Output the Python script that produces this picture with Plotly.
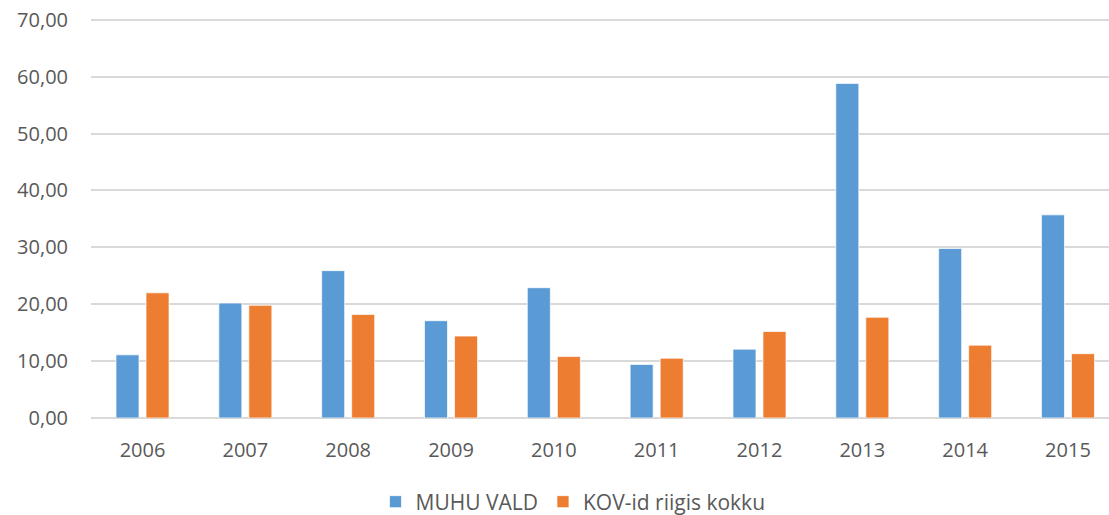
import plotly.graph_objects as go

years = ["2006", "2007", "2008", "2009", "2010", "2011", "2012", "2013", "2014", "2015"]
muhu_vald = [11.1, 20.2, 25.9, 17.1, 22.9, 9.4, 12.1, 58.8, 29.8, 35.7]
kov_kokku = [22.0, 19.8, 18.2, 14.4, 10.8, 10.5, 15.2, 17.7, 12.8, 11.3]
y_ticks = [0, 10, 20, 30, 40, 50, 60, 70]

FONT = "Open Sans"
TXT = "#595959"

fig = go.Figure()
fig.add_trace(go.Bar(
    x=years, y=muhu_vald, name="MUHU VALD",
    marker=dict(color="#5B9BD5", line=dict(color="rgba(255,255,255,0.7)", width=1)),
))
fig.add_trace(go.Bar(
    x=years, y=kov_kokku, name="KOV-id riigis kokku",
    marker=dict(color="#ED7D31", line=dict(color="rgba(255,255,255,0.7)", width=1)),
))

fig.update_layout(
    width=1109, height=515,
    margin=dict(l=91, r=0, t=17.5, b=96.5, autoexpand=False),
    paper_bgcolor="white", plot_bgcolor="white",
    separators=",.",
    barmode="group", bargap=0.416, bargroupgap=0.233,
    font=dict(family=FONT, size=20, color=TXT),
    showlegend=True,
    legend=dict(
        orientation="h", xref="paper", x=0.4735, xanchor="center",
        yref="paper", y=-0.21, yanchor="middle",
        font=dict(family=FONT, size=21, color=TXT),
        itemwidth=30, traceorder="normal",
    ),
    xaxis=dict(
        type="category", range=[-0.501, 9.399], automargin=False,
        showgrid=False, showline=False, ticks="",
        tickfont=dict(family=FONT, size=20, color=TXT),
        ticklabelstandoff=18,
    ),
    yaxis=dict(
        range=[0, 70.3], tickvals=y_ticks, tickformat=".2f", automargin=False,
        showgrid=True, gridcolor="#D9D9D9", gridwidth=1.5,
        zeroline=True, zerolinecolor="#D9D9D9", zerolinewidth=1.5,
        showline=False, ticks="",
        tickfont=dict(family=FONT, size=20, color=TXT),
        ticklabelstandoff=22, ticklabeloverflow="allow",
    ),
)

fig.write_html(
    "out.html",
    config={"displayModeBar": False},
    post_script="document.body.style.margin='0';document.body.style.overflow='hidden';",
)
